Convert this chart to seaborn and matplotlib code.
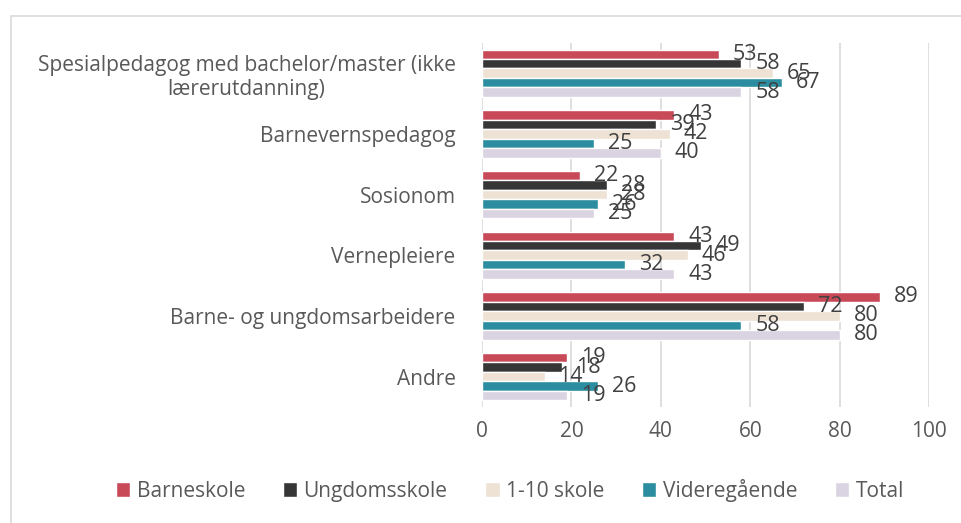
import pandas as pd
import seaborn as sns
import matplotlib.pyplot as plt
from matplotlib.patches import Rectangle

# kategorier og serier lest av figuren
kategorier = [
    "Spesialpedagog med bachelor/master (ikke\nlærerutdanning)",
    "Barnevernspedagog",
    "Sosionom",
    "Vernepleiere",
    "Barne- og ungdomsarbeidere",
    "Andre",
]
serier = ["Barneskole", "Ungdomsskole", "1-10 skole", "Videregående", "Total"]
barneskole = [53, 43, 22, 43, 89, 19]
ungdomsskole = [58, 39, 28, 49, 72, 18]
en_til_ti = [65, 42, 28, 46, 80, 14]
videregaende = [67, 25, 26, 32, 58, 26]
total = [58, 40, 25, 43, 80, 19]

farger = ["#C84A59", "#363636", "#EDE2D4", "#2B8D9F", "#DAD3E2"]

# long-form tabell til seaborn
verdier = [barneskole, ungdomsskole, en_til_ti, videregaende, total]
rows = []
for navn, vals in zip(serier, verdier):
    for kat, v in zip(kategorier, vals):
        rows.append({"kategori": kat, "serie": navn, "verdi": v})
df = pd.DataFrame(rows)

sns.set_style("white")
plt.rcParams["font.family"] = ["Open Sans", "DejaVu Sans"]
tekst = "#595959"

fig = plt.figure(figsize=(9.62, 5.23), dpi=100)
ax = fig.add_axes([0.501, 0.222, 0.465, 0.696])

sns.barplot(data=df, x="verdi", y="kategori", hue="serie", hue_order=serier,
            order=kategorier, palette=farger, orient="h", width=0.78,
            saturation=1, ax=ax, legend=True)

ax.set_xlim(0, 100)
ax.set_xticks(range(0, 101, 20))
ax.grid(axis="x", color="#D9D9D9", linewidth=1.2)
ax.set_axisbelow(True)
for s in ax.spines.values():
    s.set_visible(False)
ax.set_xlabel("")
ax.set_ylabel("")
ax.tick_params(axis="both", length=0, labelsize=15, labelcolor=tekst)
ax.tick_params(axis="x", pad=10)
ax.tick_params(axis="y", pad=19)
for lbl in ax.get_yticklabels():
    lbl.set_multialignment("center")

# dataetiketter
for cont in ax.containers:
    ax.bar_label(cont, fmt="%d", padding=10, fontsize=15.5, color="#404040")

handles, labels = ax.get_legend_handles_labels()
ax.legend_.remove()
fig.legend(handles, labels, loc="center", bbox_to_anchor=(0.53, 0.063),
           ncol=5, frameon=False, fontsize=15, labelcolor=tekst,
           handlelength=0.7, handleheight=0.7, handletextpad=0.3,
           columnspacing=1.8)

# ramme rundt diagrammet
fig.patches.append(Rectangle((0.011, -0.01), 1.0, 0.98, transform=fig.transFigure,
                             fill=False, edgecolor="#D9D9D9", linewidth=1.2))

fig.savefig("out.png", dpi=100)
